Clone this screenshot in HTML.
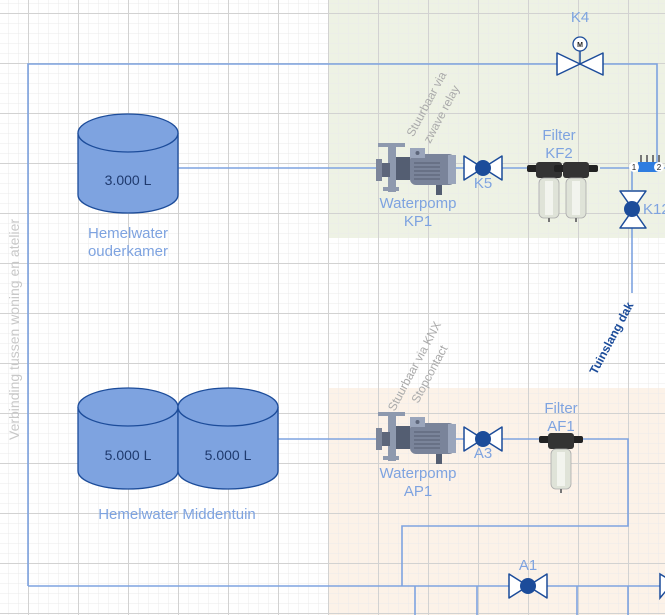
<!DOCTYPE html>
<html><head><meta charset="utf-8"><style>
html,body{margin:0;padding:0;background:#fff}
svg{display:block;font-family:"Liberation Sans",sans-serif}
</style></head><body>
<svg width="665" height="615" viewBox="0 0 665 615" xmlns="http://www.w3.org/2000/svg">
<defs>
<pattern id="mi" x="8" y="3" width="10" height="10" patternUnits="userSpaceOnUse"><path d="M0 0H10M0 0V10" stroke="#ebebeb" stroke-width="1" fill="none"/></pattern>
<pattern id="ma" x="28" y="13" width="50" height="50" patternUnits="userSpaceOnUse"><path d="M0 0.5H50M0.5 0V50" stroke="#d2d2d2" stroke-width="1" fill="none"/></pattern>
<g id="pump">
<rect x="6" y="24" width="6" height="22" fill="#7d869a"/>
<rect x="8" y="8" width="27" height="4" fill="#8e99ae"/>
<rect x="18" y="12" width="8" height="45" fill="#8e99ae"/>
<rect x="13" y="52" width="16" height="4" fill="#8e99ae"/>
<rect x="12" y="28" width="8" height="14" fill="#5d667a"/>
<rect x="26" y="22" width="14" height="23" fill="#545e72"/>
<rect x="40" y="19" width="45" height="31" rx="6" fill="#7a849a"/>
<rect x="78" y="20" width="8" height="29" fill="#9aa5bb"/>
<rect x="40" y="13" width="15" height="10" fill="#9aa5bb"/>
<circle cx="47.5" cy="18" r="2" fill="#5d667a"/>
<g stroke="#5d667a" stroke-width="1.2"><path d="M44 28H70M44 32H70M44 36H70M44 40H70M44 44H70"/></g>
<rect x="66" y="50" width="6" height="10" fill="#545e72"/>
</g>
<g id="valve">
<path d="M0 0L38 24V0L0 24Z" fill="#fff" stroke="#1c4c9a" stroke-width="1.5" stroke-linejoin="round"/>
<circle cx="19" cy="12" r="8" fill="#1c4c9a"/>
</g>
<g id="filt">
<rect x="-22" y="-3" width="44" height="7" rx="2" fill="#222"/>
<rect x="-13" y="-6" width="26" height="16" rx="3" fill="#333"/>
<rect x="-10" y="10" width="20" height="40" rx="5" fill="#dfe3d8" stroke="#aaa" stroke-width="0.8"/>
<rect x="-4" y="13" width="8" height="34" fill="#f2f4ee"/>
<rect x="-1" y="50" width="2" height="4" fill="#777"/>
</g>
</defs>
<rect width="665" height="615" fill="#fff"/>
<rect x="328" y="0" width="337" height="238" fill="#eef2e4"/>
<rect x="328" y="388" width="337" height="227" fill="#fcf2e8"/>
<rect width="665" height="615" fill="url(#mi)"/>
<rect width="665" height="615" fill="url(#ma)"/>

<g stroke="#7ea3e0" stroke-width="1.6" fill="none">
<path d="M28 586V64H657V167"/>
<path d="M178 168H378"/>
<path d="M455 168H464M502 168H530M600 168H665"/>
<path d="M632 167V190M632 228V293"/>
<path d="M278 439H378M455 439H464M502 439H545M570 439H628V526H402V586"/>
<path d="M28 586H665"/>
<path d="M415 586V615M477 586V615M577 586V615M628 586V615"/>
</g>

<g fill="#7ea3e0" stroke="#1c4c9a" stroke-width="1.3">
<path d="M78 133V195A50 18 0 0 0 178 195V133"/>
<ellipse cx="128" cy="133" rx="50" ry="19"/>
<path d="M78 407V471A50 18 0 0 0 178 471V407"/>
<ellipse cx="128" cy="407" rx="50" ry="19"/>
<path d="M178 407V471A50 18 0 0 0 278 471V407"/>
<ellipse cx="228" cy="407" rx="50" ry="19"/>
</g>
<g fill="#1f3a6e" font-size="14" text-anchor="middle">
<text x="128" y="185">3.000 L</text>
<text x="128" y="460">5.000 L</text>
<text x="228" y="460">5.000 L</text>
</g>
<g fill="#7ea3e0" font-size="15" text-anchor="middle">
<text x="128" y="238">Hemelwater</text>
<text x="128" y="256">ouderkamer</text>
<text x="177" y="519">Hemelwater Middentuin</text>
<text x="418" y="208">Waterpomp</text>
<text x="418" y="226">KP1</text>
<text x="418" y="478">Waterpomp</text>
<text x="418" y="496">AP1</text>
<text x="483" y="188">K5</text>
<text x="483" y="458">A3</text>
<text x="559" y="140">Filter</text>
<text x="559" y="158">KF2</text>
<text x="561" y="413">Filter</text>
<text x="561" y="431">AF1</text>
<text x="580" y="22">K4</text>
<text x="528" y="570">A1</text>
<text x="643" y="214" text-anchor="start">K12</text>
</g>
<text transform="translate(19,440) rotate(-90)" fill="#c8c8c8" font-size="14">Verbinding tussen woning en atelier</text>
<g fill="#aaa" font-size="12" text-anchor="middle">
<text transform="translate(430,106) rotate(-62)">Stuurbaar via</text>
<text transform="translate(445,116) rotate(-62)">zwave relay</text>
<text transform="translate(418,368) rotate(-62)">Stuurbaar via KNX</text>
<text transform="translate(433,376) rotate(-62)">Stopcontact</text>
</g>
<text transform="translate(615,340) rotate(-62)" fill="#1c4c9a" font-size="12" font-weight="bold" text-anchor="middle">Tuinslang dak</text>

<use href="#pump" x="370" y="135"/>
<use href="#pump" x="370" y="404"/>
<use href="#valve" x="464" y="156"/>
<use href="#valve" x="464" y="427"/>
<use href="#valve" x="509" y="574"/>
<path d="M660 574L680 586V574L660 598Z" fill="#fff" stroke="#1c4c9a" stroke-width="1.5"/>
<path d="M557 53L603 75V53L557 75Z" fill="#fff" stroke="#1c4c9a" stroke-width="1.5" stroke-linejoin="round"/>
<path d="M580 50V64" stroke="#1c4c9a" stroke-width="1.5"/>
<circle cx="580" cy="44" r="7" fill="#fff" stroke="#1c4c9a" stroke-width="1.3"/>
<text x="580" y="47" font-size="7" font-weight="bold" text-anchor="middle" fill="#222">M</text>
<path d="M620 191H646L620 228H646Z" fill="#fff" stroke="#1c4c9a" stroke-width="1.5" stroke-linejoin="round"/>
<circle cx="632" cy="209" r="8" fill="#1c4c9a"/>
<use href="#filt" x="549" y="168"/>
<use href="#filt" x="576" y="168"/>
<use href="#filt" x="561" y="439"/>
<rect x="638" y="162" width="22" height="10" fill="#2f7de0"/>
<g fill="#777"><rect x="640" y="155" width="2" height="7"/><rect x="646" y="155" width="2" height="7"/><rect x="652" y="155" width="2" height="7"/><rect x="658" y="155" width="2" height="7"/></g>
<circle cx="634" cy="167" r="5" fill="#fff"/><text x="634" y="170" font-size="8" text-anchor="middle" fill="#222">1</text>
<circle cx="659" cy="167" r="5" fill="#fff"/><text x="659" y="170" font-size="8" text-anchor="middle" fill="#222">2</text>
</svg>
</body></html>
